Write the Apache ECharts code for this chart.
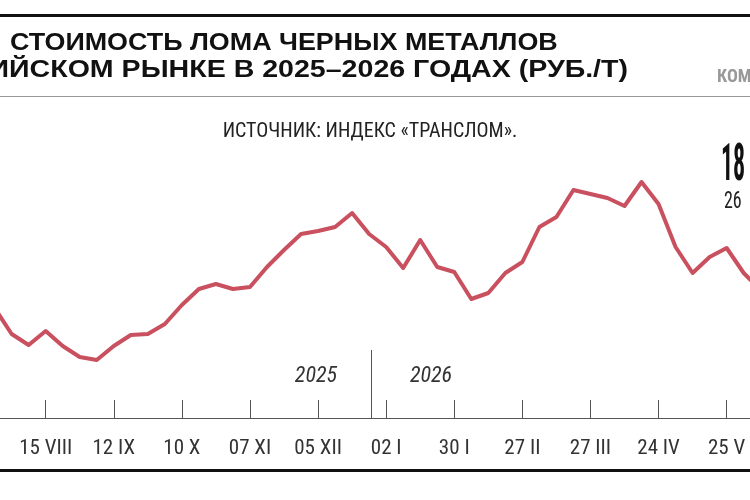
<!DOCTYPE html>
<html>
<head>
<meta charset="utf-8">
<script src="https://cdn.jsdelivr.net/npm/echarts@6/dist/echarts.min.js"></script>
<style>
  html, body { margin: 0; padding: 0; background: #fff; }
  #chart { width: 750px; height: 500px; }
</style>
</head>
<body>
<div id="chart"></div>
<script>
// weekly dates (the frame is cropped on both sides)
const weeks = [
  '25 VII', '01 VIII', '08 VIII', '15 VIII', '22 VIII', '29 VIII', '05 IX', '12 IX',
  '19 IX', '26 IX', '03 X', '10 X', '17 X', '24 X', '31 X', '07 XI',
  '14 XI', '21 XI', '28 XI', '05 XII', '12 XII', '19 XII', '26 XII', '02 I',
  '09 I', '16 I', '23 I', '30 I', '06 II', '13 II', '20 II', '27 II',
  '06 III', '13 III', '20 III', '27 III', '03 IV', '10 IV', '17 IV', '24 IV',
  '01 V', '08 V', '15 V', '25 V', '01 VI', '08 VI',
]
// rub. per tonne
const prices = [
  17700, 17180, 16960, 17240, 16940, 16720, 16660, 16940,
  17160, 17180, 17380, 17760, 18080, 18180, 18080, 18120,
  18520, 18860, 19180, 19240, 19320, 19600, 19180, 18920,
  18500, 19060, 18520, 18420, 17880, 18000, 18400, 18620,
  19320, 19520, 20060, 19980, 19900, 19740, 20220, 19780,
  18920, 18400, 18720, 18900, 18400, 18060,
]
const firstLabel = 3 // '15 VIII'
const labelStep = 4

const narrow = "'Liberation Sans Narrow', 'Roboto Condensed', 'DejaVu Sans Condensed', sans-serif"
const lineColor = '#c9505e'

const chart = echarts.init(document.getElementById('chart'), null, { renderer: 'canvas' })

const showTick = (i) => i >= firstLabel && (i - firstLabel) % labelStep === 0

chart.setOption({
  animation: false,
  backgroundColor: '#fff',
  grid: { left: -5.4, right: -10.7, top: 100, bottom: 82, outerBoundsMode: 'none', containLabel: false },
  xAxis: {
    type: 'category',
    data: weeks,
    boundaryGap: false,
    axisLine: { lineStyle: { color: '#555', width: 1 } },
    axisTick: { inside: true, length: 18, interval: showTick, lineStyle: { color: '#555' } },
    axisLabel: {
      interval: showTick,
      margin: 20,
      fontFamily: narrow,
      fontSize: 21,
      color: '#333',
    },
    splitLine: { show: false },
  },
  yAxis: { type: 'value', min: 15500, max: 21860, show: false },
  graphic: [
    { type: 'rect', shape: { x: 0, y: 14, width: 750, height: 3 }, style: { fill: '#111' } },
    { type: 'rect', shape: { x: 0, y: 96, width: 750, height: 1 }, style: { fill: '#999' } },
    { type: 'rect', shape: { x: 0, y: 469, width: 750, height: 3 }, style: { fill: '#111' } },
    { type: 'line', shape: { x1: 371.5, y1: 350, x2: 371.5, y2: 418 }, style: { stroke: '#555', lineWidth: 1 } },
    {
      type: 'text', x: 10, y: 43, scaleX: 1.12,
      style: { text: 'СТОИМОСТЬ ЛОМА ЧЕРНЫХ МЕТАЛЛОВ', font: "bold 24px 'Liberation Sans', Arial, sans-serif", fill: '#111', verticalAlign: 'middle' },
    },
    {
      type: 'text', x: 628, y: 70, scaleX: 1.19,
      style: { text: 'НА РОССИЙСКОМ РЫНКЕ В 2025–2026 ГОДАХ (РУБ./Т)', font: "bold 24px 'Liberation Sans', Arial, sans-serif", fill: '#111', align: 'right', verticalAlign: 'middle' },
    },
    {
      type: 'text', x: 717, y: 77,
      style: { text: 'КОММЕРСАНТЪ', font: 'bold 18px ' + narrow, fill: '#999', verticalAlign: 'middle' },
    },
    {
      type: 'text', x: 370, y: 132,
      style: { text: 'ИСТОЧНИК: ИНДЕКС «ТРАНСЛОМ».', font: '20px ' + narrow, fill: '#222', align: 'center', verticalAlign: 'middle' },
    },
    {
      type: 'text', x: 721, y: 167, scaleX: 0.46,
      style: { text: '18 060', font: 'bold 52px ' + narrow, fill: '#111', verticalAlign: 'middle' },
    },
    {
      type: 'text', x: 724, y: 202, scaleX: 0.78,
      style: { text: '26', font: '23px ' + narrow, fill: '#222', verticalAlign: 'middle' },
    },
    {
      type: 'text', x: 337, y: 376,
      style: { text: '2025', font: 'italic 22px ' + narrow, fill: '#333', align: 'right', verticalAlign: 'middle' },
    },
    {
      type: 'text', x: 410, y: 376,
      style: { text: '2026', font: 'italic 22px ' + narrow, fill: '#333', align: 'left', verticalAlign: 'middle' },
    },
  ],
  series: [
    {
      type: 'line',
      data: prices,
      symbol: 'none',
      lineStyle: { color: lineColor, width: 4, join: 'round' },
    },
  ],
})
</script>
</body>
</html>
